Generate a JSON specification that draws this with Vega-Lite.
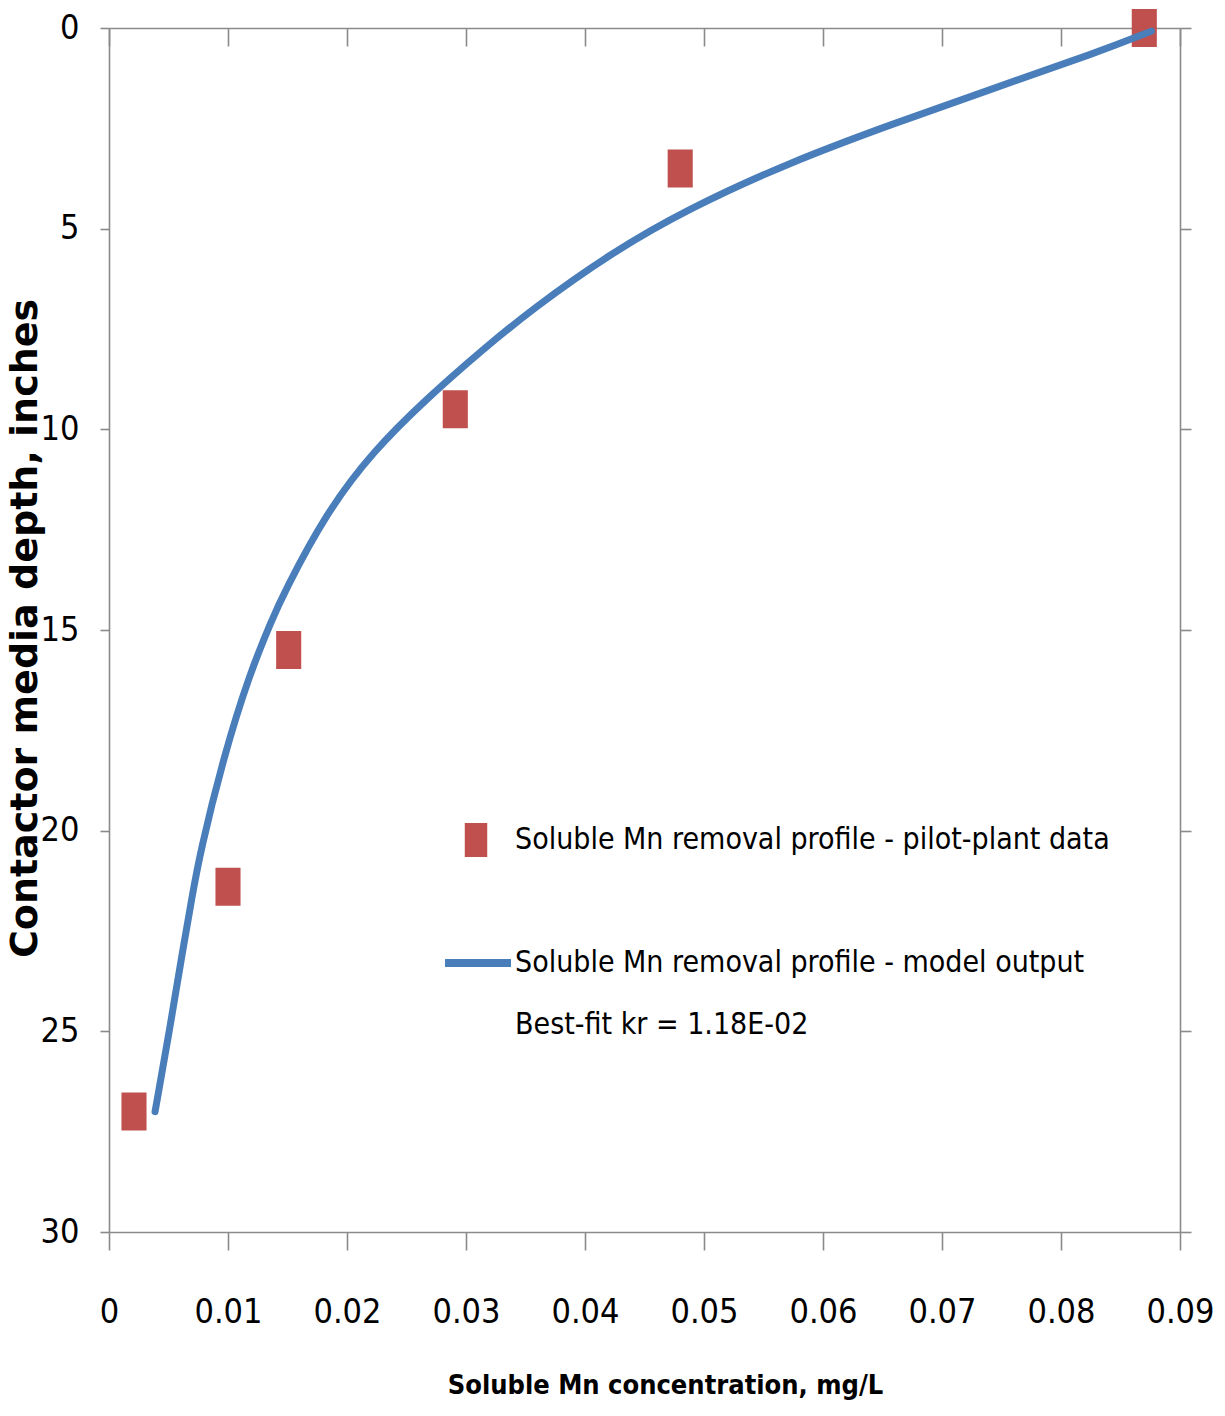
{
  "$schema": "https://vega.github.io/schema/vega-lite/v6.json",
  "autosize": {"type": "none"},
  "width": 1071,
  "height": 1204,
  "padding": {"left": 109, "top": 28, "right": 45, "bottom": 184},
  "background": "white",
  "config": {
    "view": {"stroke": null},
    "font": "DejaVu Sans Condensed, Liberation Sans, sans-serif",
    "axis": {
      "domainColor": "#8a8a8a",
      "domainWidth": 1.6,
      "tickColor": "#8a8a8a",
      "tickWidth": 1.6,
      "grid": false,
      "labelFont": "DejaVu Sans Condensed, Liberation Sans, sans-serif",
      "labelFontSize": 34,
      "labelColor": "#000000",
      "titleColor": "#000000"
    }
  },
  "datasets": {
    "pilot": [
      {"conc": 0.0870, "depth": 0.0, "series": "Soluble Mn removal profile - pilot-plant data"},
      {"conc": 0.0480, "depth": 3.5, "series": "Soluble Mn removal profile - pilot-plant data"},
      {"conc": 0.0291, "depth": 9.5, "series": "Soluble Mn removal profile - pilot-plant data"},
      {"conc": 0.0151, "depth": 15.5, "series": "Soluble Mn removal profile - pilot-plant data"},
      {"conc": 0.0100, "depth": 21.4, "series": "Soluble Mn removal profile - pilot-plant data"},
      {"conc": 0.0021, "depth": 27.0, "series": "Soluble Mn removal profile - pilot-plant data"}
    ],
    "model": [
      {"conc": 0.00387, "depth": 27.0, "series": "Soluble Mn removal profile - model output"},
      {"conc": 0.00513, "depth": 24.9, "series": "Soluble Mn removal profile - model output"},
      {"conc": 0.00624, "depth": 22.9, "series": "Soluble Mn removal profile - model output"},
      {"conc": 0.00695, "depth": 21.7, "series": "Soluble Mn removal profile - model output"},
      {"conc": 0.00765, "depth": 20.55, "series": "Soluble Mn removal profile - model output"},
      {"conc": 0.00961, "depth": 18.18, "series": "Soluble Mn removal profile - model output"},
      {"conc": 0.01185, "depth": 16.06, "series": "Soluble Mn removal profile - model output"},
      {"conc": 0.01369, "depth": 14.75, "series": "Soluble Mn removal profile - model output"},
      {"conc": 0.01465, "depth": 14.1, "series": "Soluble Mn removal profile - model output"},
      {"conc": 0.01829, "depth": 12.06, "series": "Soluble Mn removal profile - model output"},
      {"conc": 0.02221, "depth": 10.54, "series": "Soluble Mn removal profile - model output"},
      {"conc": 0.02664, "depth": 9.25, "series": "Soluble Mn removal profile - model output"},
      {"conc": 0.03137, "depth": 8.02, "series": "Soluble Mn removal profile - model output"},
      {"conc": 0.03567, "depth": 6.98, "series": "Soluble Mn removal profile - model output"},
      {"conc": 0.04212, "depth": 5.62, "series": "Soluble Mn removal profile - model output"},
      {"conc": 0.04856, "depth": 4.52, "series": "Soluble Mn removal profile - model output"},
      {"conc": 0.05716, "depth": 3.35, "series": "Soluble Mn removal profile - model output"},
      {"conc": 0.06576, "depth": 2.4, "series": "Soluble Mn removal profile - model output"},
      {"conc": 0.07435, "depth": 1.5, "series": "Soluble Mn removal profile - model output"},
      {"conc": 0.08295, "depth": 0.62, "series": "Soluble Mn removal profile - model output"},
      {"conc": 0.0876, "depth": 0.08, "series": "Soluble Mn removal profile - model output"}
    ],
    "note": [
      {"label": "Best-fit kr = 1.18E-02"}
    ]
  },
  "resolve": {"axis": {"x": "independent", "y": "independent"}, "scale": {"x": "shared", "y": "shared"}},
  "layer": [
    {
      "data": {"name": "pilot"},
      "mark": {"type": "point", "filled": true, "opacity": 1, "size": 1444, "shape": "M-0.66,-1H0.66V1H-0.66Z", "strokeWidth": 0},
      "encoding": {
        "x": {
          "field": "conc", "type": "quantitative",
          "scale": {"domain": [0, 0.09], "nice": false, "zero": true},
          "axis": {
            "orient": "bottom",
            "values": [0, 0.01, 0.02, 0.03, 0.04, 0.05, 0.06, 0.07, 0.08, 0.09],
            "format": "~g",
            "tickSize": 18,
            "labelPadding": 45,
            "labelBaseline": "top",
            "title": "Soluble Mn concentration, mg/L",
            "titleFont": "DejaVu Sans Condensed, Liberation Sans, sans-serif",
            "titleFontWeight": "bold",
            "titleFontSize": 27,
            "titleX": 556,
            "titleY": 161,
            "titleAlign": "center",
            "titleBaseline": "alphabetic",
            "labelFlush": false,
            "labelOverlap": false
          }
        },
        "y": {
          "field": "depth", "type": "quantitative",
          "scale": {"domain": [0, 30], "reverse": true, "nice": false},
          "axis": {
            "orient": "left",
            "values": [0, 5, 10, 15, 20, 25, 30],
            "tickSize": 9,
            "labelPadding": 21,
            "title": "Contactor media depth, inches",
            "titleFont": "DejaVu Sans",
            "titleFontWeight": "bold",
            "titleFontSize": 38,
            "titleAngle": 270,
            "titleX": -73,
            "titleY": 600,
            "titleAlign": "center",
            "titleBaseline": "alphabetic",
            "labelFlush": false,
            "labelOverlap": false
          }
        },
        "fill": {
          "field": "series", "type": "nominal",
          "scale": {"range": ["#C0504D"]},
          "legend": {
            "orient": "none",
            "legendX": 350,
            "legendY": 795,
            "title": null,
            "padding": 0,
            "symbolType": "M-0.66,-1H0.66V1H-0.66Z",
            "symbolSize": 1156,
            "symbolStrokeWidth": 0,
            "symbolOpacity": 1,
            "labelOffset": 22,
            "labelFont": "DejaVu Sans Condensed, Liberation Sans, sans-serif",
            "labelFontSize": 30,
            "labelColor": "#000000",
            "labelLimit": 0
          }
        }
      }
    },
    {
      "data": {"name": "model"},
      "mark": {"type": "line", "strokeWidth": 7, "strokeCap": "round", "interpolate": "basis"},
      "encoding": {
        "x": {
          "field": "conc", "type": "quantitative",
          "axis": {
            "orient": "top",
            "values": [0, 0.01, 0.02, 0.03, 0.04, 0.05, 0.06, 0.07, 0.08, 0.09],
            "tickSize": -18,
            "labels": false,
            "title": null
          }
        },
        "y": {
          "field": "depth", "type": "quantitative",
          "axis": {
            "orient": "right",
            "values": [0, 5, 10, 15, 20, 25, 30],
            "tickSize": 11,
            "labels": false,
            "title": null
          }
        },
        "stroke": {
          "field": "series", "type": "nominal",
          "scale": {"range": ["#4A7EBB"]},
          "legend": {
            "orient": "none",
            "legendX": 332,
            "legendY": 898,
            "title": null,
            "padding": 0,
            "symbolType": "stroke",
            "symbolSize": 4356,
            "symbolStrokeWidth": 8,
            "labelOffset": 0,
            "labelFont": "DejaVu Sans Condensed, Liberation Sans, sans-serif",
            "labelFontSize": 30,
            "labelColor": "#000000",
            "labelLimit": 0
          }
        }
      }
    },
    {
      "data": {"name": "note"},
      "mark": {"type": "text", "align": "left", "baseline": "middle", "font": "DejaVu Sans Condensed, Liberation Sans, sans-serif", "fontSize": 30, "color": "#000000"},
      "encoding": {
        "x": {"datum": 0.03412, "type": "quantitative", "axis": null},
        "y": {"datum": 24.84, "type": "quantitative", "axis": null},
        "text": {"field": "label"}
      }
    }
  ]
}
